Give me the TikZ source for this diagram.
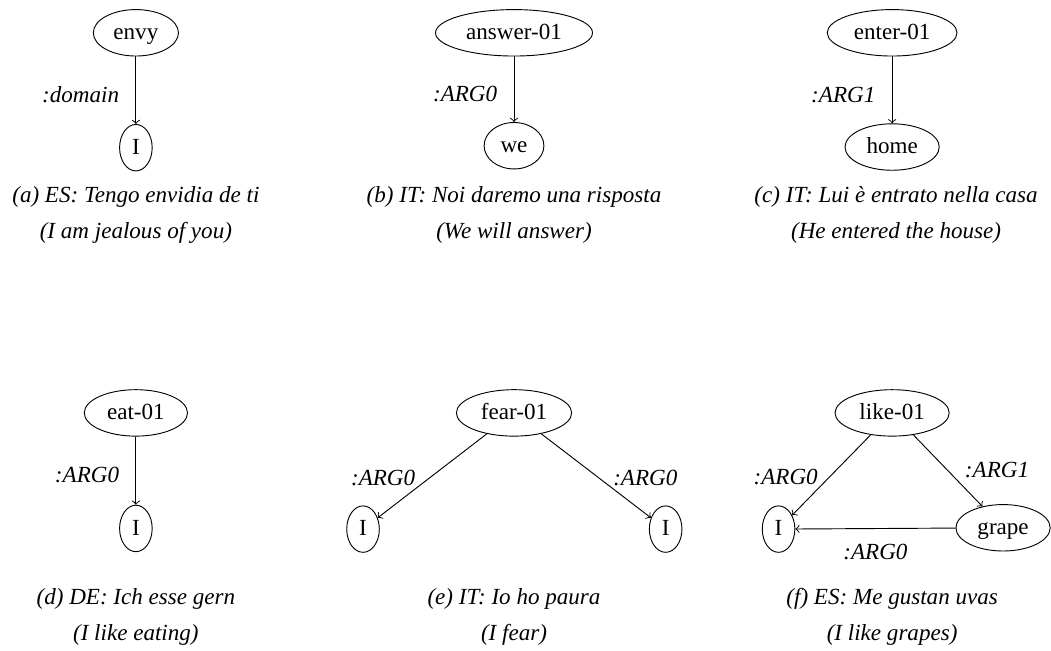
\documentclass[tikz,border=0pt]{standalone}
\usepackage{fontspec}
\setmainfont{Liberation Serif}
\usepackage{tikz}
\usetikzlibrary{shapes.geometric}
\tikzset{
	concept/.style={draw, ellipse, inner sep=3.33pt, text height=1.45ex, text depth=0.2ex},
	rel/.style={->},
	role/.style={font=\itshape, inner sep=0.6pt},
	subcap/.style={font=\itshape, align=center}
}

\begin{document}
\begin{tikzpicture}
		%%%%% START %%%%%
		\useasboundingbox (0, 0) rectangle (16.01, -9.915);
		
		% (a)
		\node[concept] (envy) at (2.07, -0.50) {envy};
		\node[concept] (iA) at (2.07, -2.25) {I};
		\draw[rel] (envy) -- node[role, pos=0.57, left=6.5pt] {:domain} (iA);
		\node[subcap] (capA) at (2.07, -3.27) {(a) ES: Tengo envidia de ti\\[3.6pt](I am jealous of you)};
		
		% (b)
		\node[concept] (answer) at (7.83, -0.50) {answer-01};
		\node[concept] (we) at (7.83, -2.22) {we};
		\draw[rel] (answer) -- node[role, pos=0.57, left=6.5pt] {:ARG0} (we);
		\node[subcap] (capB) at (7.83, -3.27) {(b) IT: Noi daremo una risposta\\[3.6pt](We will answer)};
		
		% (c)
		\node[concept] (enter) at (13.59, -0.50) {enter-01};
		\node[concept] (home) at (13.59, -2.24) {home};
		\draw[rel] (enter) -- node[role, pos=0.57, left=6.5pt] {:ARG1} (home);
		\node[subcap] (capC) at (13.65, -3.27) {(c) IT: Lui è entrato nella casa\\[3.6pt](He entered the house)};
		
		% (d)
		\node[concept] (eat) at (2.07, -6.29) {eat-01};
		\node[concept] (iD) at (2.07, -8.05) {I};
		\draw[rel] (eat) -- node[role, pos=0.57, left=6.5pt] {:ARG0} (iD);
		\node[subcap] (capD) at (2.07, -9.40) {(d) DE: Ich esse gern\\[3.6pt](I like eating)};
		
		% (e)
		\node[concept] (fear) at (7.83, -6.29) {fear-01};
		\node[concept] (iE1) at (5.53, -8.06) {I};
		\node[concept] (iE2) at (10.14, -8.06) {I};
		\draw[rel] (fear) -- node[role, pos=0.64, anchor=south east] {:ARG0} (iE1);
		\draw[rel] (fear) -- node[role, pos=0.64, anchor=south west] {:ARG0} (iE2);
		\node[subcap] (capE) at (7.83, -9.40) {(e) IT: Io ho paura\\[3.6pt](I fear)};
		
		% (f)
		\node[concept] (like) at (13.59, -6.29) {like-01};
		\node[concept] (iF) at (11.86, -8.06) {I};
		\node[concept] (grape) at (15.28, -8.04) {grape};
		\draw[rel] (like) -- node[role, pos=0.65, anchor=south east] {:ARG0} (iF);
		\draw[rel] (like) -- node[role, pos=0.62, anchor=south west, xshift=3pt] {:ARG1} (grape);
		\draw[rel] (grape) -- node[role, below=6pt] {:ARG0} (iF);
		\node[subcap] (capF) at (13.59, -9.40) {(f) ES: Me gustan uvas\\[3.6pt](I like grapes)};
		%%%%% END %%%%%
	\end{tikzpicture}
\end{document}
